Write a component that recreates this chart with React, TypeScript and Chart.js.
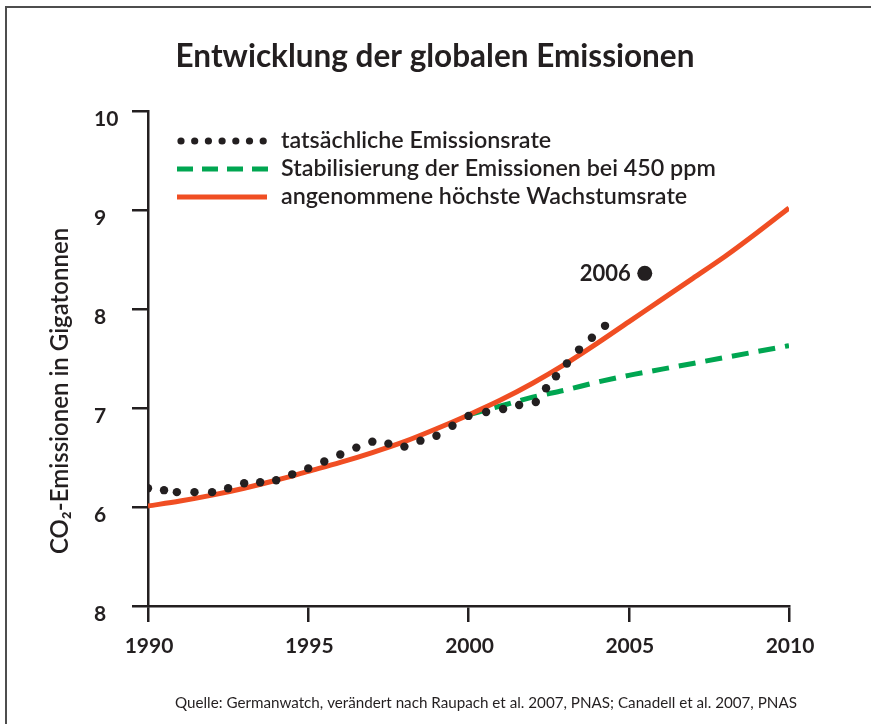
import React, { useEffect, useRef } from "react";
import { Chart, registerables } from "chart.js";

Chart.register(...registerables);

// ---------- data ----------
const chartTitle = "Entwicklung der globalen Emissionen";
const yAxisTitle = "CO₂-Emissionen in Gigatonnen";
const sourceText =
  "Quelle: Germanwatch, verändert nach Raupach et al. 2007, PNAS; Canadell et al. 2007, PNAS";

const xTickValues = [1990, 1995, 2000, 2005, 2010];
const xTickLabels = ["1990", "1995", "2000", "2005", "2010"];
const yTickValues = [5, 6, 7, 8, 9, 10];
const yTickLabels = ["8", "6", "7", "8", "9", "10"];

const legendLabels = [
  "tatsächliche Emissionsrate",
  "Stabilisierung der Emissionen bei 450 ppm",
  "angenommene höchste Wachstumsrate",
];

// actual emissions (dots)
const actualYears = [
  1990.0, 1990.5, 1990.9, 1991.45, 1992.0, 1992.5, 1993.0, 1993.5, 1994.0, 1994.5,
  1995.0, 1995.5, 1996.0, 1996.5, 1997.0, 1997.5, 1998.0, 1998.5, 1999.0, 1999.5,
  2000.0, 2000.55, 2001.08, 2001.58, 2002.1, 2002.42, 2002.73, 2003.07, 2003.45, 2003.85,
  2004.26,
];
const actualValues = [
  6.19, 6.17, 6.15, 6.15, 6.15, 6.19, 6.24, 6.25, 6.27, 6.33,
  6.39, 6.46, 6.53, 6.6, 6.66, 6.64, 6.61, 6.67, 6.72, 6.82,
  6.92, 6.96, 6.99, 7.03, 7.06, 7.2, 7.32, 7.45, 7.59, 7.71,
  7.83,
];

// assumed highest growth rate (red)
const growthYears = [
  1990, 1991, 1992, 1993, 1994, 1995, 1996, 1997, 1998, 1999, 2000,
  2001, 2002, 2003, 2004, 2005, 2006, 2007, 2008, 2009, 2010,
];
const growthValues = [
  6.01, 6.06, 6.12, 6.19, 6.27, 6.36, 6.45, 6.55, 6.66, 6.79, 6.93,
  7.08, 7.25, 7.44, 7.65, 7.87, 8.09, 8.31, 8.53, 8.77, 9.02,
];

// stabilisation at 450 ppm (green)
const stabYears = [2000, 2001, 2002, 2003, 2004, 2005, 2006, 2007, 2008, 2009, 2010];
const stabValues = [6.93, 7.02, 7.11, 7.18, 7.26, 7.33, 7.39, 7.45, 7.51, 7.57, 7.63];

// highlighted point
const highlightYears = [2005.5];
const highlightValues = [8.36];
const highlightLabels = ["2006"];

// ---------- styles ----------
const TEXT = "#231f20";
const RED = "#f04e23";
const GREEN = "#00a651";
const FONT = "Lato";

const overlayPlugin = {
  id: "overlay",
  afterDraw(chart: any) {
    const ctx: CanvasRenderingContext2D = chart.ctx;
    ctx.save();

    // frame
    ctx.strokeStyle = "#4d4d4d";
    ctx.lineWidth = 2;
    ctx.beginPath();
    ctx.moveTo(6, 724);
    ctx.lineTo(6, 7);
    ctx.lineTo(871, 7);
    ctx.stroke();

    ctx.fillStyle = TEXT;
    ctx.textBaseline = "middle";

    // title
    ctx.font = `bold 31.5px ${FONT}`;
    ctx.textAlign = "center";
    ctx.fillText(chartTitle, 435, 57);

    // y-axis title
    ctx.save();
    ctx.translate(60, 391);
    ctx.rotate(-Math.PI / 2);
    ctx.font = `600 24px ${FONT}`;
    ctx.textAlign = "center";
    ctx.fillText(yAxisTitle, 0, 0);
    ctx.restore();

    // source
    ctx.font = `15.2px ${FONT}`;
    ctx.textAlign = "left";
    ctx.fillText(sourceText, 175, 703);

    // legend
    const rows = [141, 169, 197];
    const x0 = 177;
    const x1 = 267;
    ctx.fillStyle = TEXT;
    for (let i = 0; i < 7; i++) {
      const cx = 181 + i * 13.7;
      ctx.beginPath();
      ctx.arc(cx, rows[0], 3.6, 0, Math.PI * 2);
      ctx.fill();
    }
    ctx.strokeStyle = GREEN;
    ctx.lineWidth = 5;
    ctx.setLineDash([16, 9]);
    ctx.beginPath();
    ctx.moveTo(x0, rows[1]);
    ctx.lineTo(x1 + 1, rows[1]);
    ctx.stroke();
    ctx.setLineDash([]);
    ctx.strokeStyle = RED;
    ctx.beginPath();
    ctx.moveTo(x0, rows[2]);
    ctx.lineTo(x1, rows[2]);
    ctx.stroke();

    ctx.fillStyle = TEXT;
    ctx.font = `600 23.3px ${FONT}`;
    ctx.textAlign = "left";
    legendLabels.forEach((t, i) => ctx.fillText(t, 281, rows[i] - 1));

    // highlight label
    const meta = chart.getDatasetMeta(3);
    meta.data.forEach((pt: any, i: number) => {
      ctx.font = `bold 22px ${FONT}`;
      ctx.textAlign = "right";
      ctx.fillText(highlightLabels[i], pt.x - 14, pt.y + 1);
    });

    ctx.restore();
  },
};

export default function App() {
  const ref = useRef<HTMLCanvasElement>(null);

  useEffect(() => {
    if (!ref.current) return;
    const tickFont = { family: FONT, weight: "bold" as const, size: 21 };
    const gridCommon = {
      display: true,
      drawOnChartArea: false,
      drawTicks: true,
      tickLength: 16,
      color: TEXT,
      lineWidth: 2.5,
    };
    const chart = new Chart(ref.current, {
      type: "line",
      data: {
        datasets: [
          {
            label: legendLabels[0],
            data: actualYears.map((x, i) => ({ x, y: actualValues[i] })),
            showLine: false,
            pointRadius: 4.2,
            pointBackgroundColor: TEXT,
            pointBorderWidth: 0,
            order: 0,
          },
          {
            label: legendLabels[2],
            data: growthYears.map((x, i) => ({ x, y: growthValues[i] })),
            borderColor: RED,
            borderWidth: 5,
            pointRadius: 0,
            cubicInterpolationMode: "monotone",
            order: 1,
          },
          {
            label: legendLabels[1],
            data: stabYears.map((x, i) => ({ x, y: stabValues[i] })),
            borderColor: GREEN,
            borderWidth: 5,
            borderDash: [17, 10],
            pointRadius: 0,
            cubicInterpolationMode: "monotone",
            order: 2,
          },
          {
            label: highlightLabels[0],
            data: highlightYears.map((x, i) => ({ x, y: highlightValues[i] })),
            showLine: false,
            pointRadius: 7.5,
            pointBackgroundColor: TEXT,
            pointBorderWidth: 0,
            order: 0,
          },
        ],
      },
      options: {
        animation: false,
        responsive: false,
        layout: { padding: { left: 94, right: 82, top: 111, bottom: 0 } },
        plugins: {
          legend: { display: false },
          tooltip: { enabled: false },
          title: { display: false },
        },
        scales: {
          x: {
            type: "linear",
            min: 1990,
            max: 2010,
            afterFit: (s: any) => {
              s.height = 118;
            },
            afterBuildTicks: (s: any) => {
              s.ticks = xTickValues.map((v) => ({ value: v }));
            },
            ticks: {
              callback: (v: any) => xTickLabels[xTickValues.indexOf(Number(v))] ?? "",
              font: tickFont,
              color: TEXT,
              padding: 12,
              maxRotation: 0,
              autoSkip: false,
              labelOffset: 1,
            },
            grid: gridCommon,
            border: { display: true, color: TEXT, width: 2.5 },
          },
          y: {
            type: "linear",
            min: 5,
            max: 10,
            afterFit: (s: any) => {
              s.width = 54;
            },
            afterBuildTicks: (s: any) => {
              s.ticks = yTickValues.map((v) => ({ value: v }));
            },
            ticks: {
              callback: (v: any) => yTickLabels[yTickValues.indexOf(Number(v))] ?? "",
              font: tickFont,
              color: TEXT,
              crossAlign: "far",
              labelOffset: 8,
              autoSkip: false,
            },
            grid: gridCommon,
            border: { display: true, color: TEXT, width: 2.5 },
          },
        },
      } as any,
      plugins: [overlayPlugin],
    });
    return () => chart.destroy();
  }, []);

  return (
    <div
      style={{
        position: "absolute",
        left: 0,
        top: 0,
        width: 871,
        height: 724,
        background: "#fff",
      }}
    >
      <canvas ref={ref} width={871} height={724} style={{ display: "block" }} />
    </div>
  );
}
